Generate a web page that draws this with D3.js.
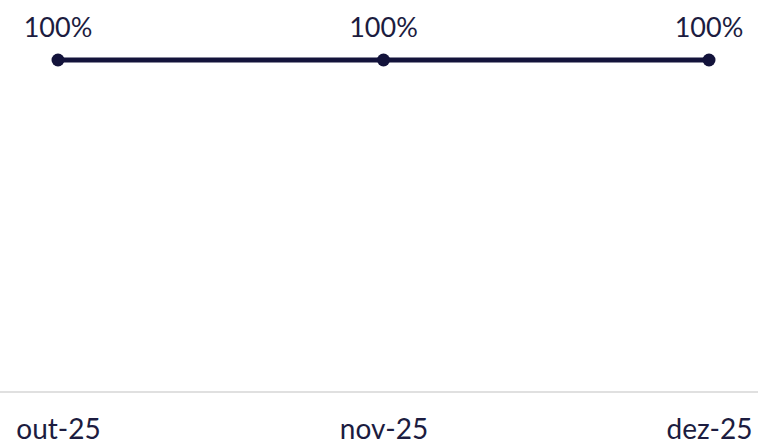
<!DOCTYPE html>
<html>
<head>
<meta charset="utf-8">
<script src="https://cdn.jsdelivr.net/npm/d3@7"></script>
<style>
  html, body { margin: 0; padding: 0; background: #ffffff; }
  svg { display: block; }
  text { font-family: "Lato", "Open Sans", sans-serif; }
</style>
</head>
<body>
<svg id="chart" width="758" height="445"></svg>
<script>
const categories = ["out-25", "nov-25", "dez-25"];
const values = [1.0, 1.0, 1.0];
const valueLabels = ["100%", "100%", "100%"];

const W = 758, H = 445;
const svg = d3.select("#chart");

const x = d3.scalePoint().domain(categories).range([58, 709]);
const y = d3.scaleLinear().domain([0, 1]).range([392, 60]);

const ink = "#13133b";
const textColor = "#1c1c40";

// baseline
svg.append("line")
  .attr("x1", 0).attr("x2", W)
  .attr("y1", y(0)).attr("y2", y(0))
  .attr("stroke", "#e0e0e0").attr("stroke-width", 2);

// x axis labels
const xAxis = d3.axisBottom(x).tickSize(0).tickPadding(0);
const gx = svg.append("g").attr("transform", `translate(0,${y(0)})`).call(xAxis);
gx.select(".domain").remove();
gx.selectAll("text")
  .attr("y", 47)
  .attr("dy", 0)
  .attr("fill", textColor)
  .style("font-size", "28px")
  .style("font-family", "Lato, 'Open Sans', sans-serif");

const data = categories.map((c, i) => ({ c, v: values[i], label: valueLabels[i] }));

// line
svg.append("path")
  .datum(data)
  .attr("fill", "none")
  .attr("stroke", ink)
  .attr("stroke-width", 5)
  .attr("d", d3.line().x(d => x(d.c)).y(d => y(d.v)));

// points
svg.selectAll("circle.pt")
  .data(data)
  .join("circle")
  .attr("class", "pt")
  .attr("cx", d => x(d.c))
  .attr("cy", d => y(d.v))
  .attr("r", 6.5)
  .attr("fill", ink);

// value labels
svg.selectAll("text.vl")
  .data(data)
  .join("text")
  .attr("class", "vl")
  .attr("x", d => x(d.c))
  .attr("y", d => y(d.v) - 23)
  .attr("text-anchor", "middle")
  .attr("fill", textColor)
  .style("font-size", "27px")
  .text(d => d.label);
</script>
</body>
</html>
